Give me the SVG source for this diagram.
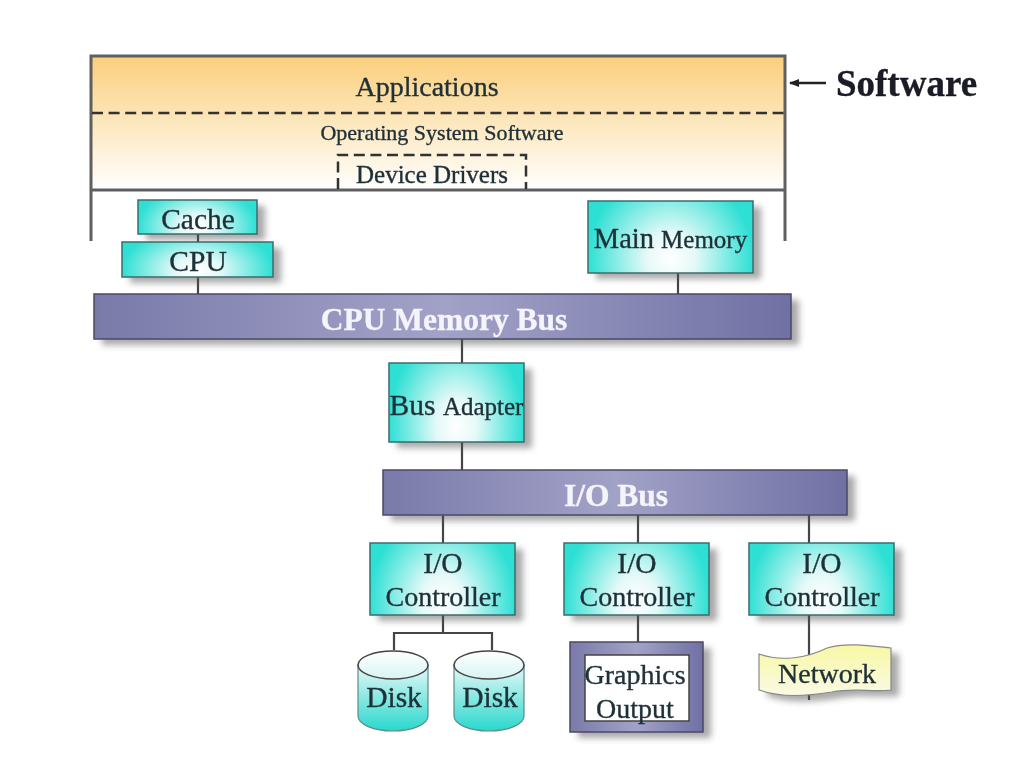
<svg xmlns="http://www.w3.org/2000/svg" width="1020" height="776" viewBox="0 0 1020 776">
<style>
text{font-family:"Liberation Serif","Times New Roman",serif;fill:#1f3038;stroke:#1f3038;stroke-width:.35;text-anchor:middle}
.f{fill:none;stroke:#5e5e5e;stroke-width:3}
.d{fill:none;stroke:#333;stroke-width:2.5;stroke-dasharray:11 5.6}
.c{fill:none;stroke:#444;stroke-width:2.2}
.s{fill:#555;opacity:.5;filter:url(#b)}
.t{fill:url(#teal);stroke:#3d6b6b;stroke-width:1.5}
.bus{fill:url(#bus);stroke:#4a4a66;stroke-width:1.5}
.l{font-size:28px}
.big{font-size:29.5px}
.main{font-size:28.5px}
.small{font-size:25px}
text.w{fill:#f4f4fa;stroke:#f4f4fa;font-weight:bold;font-size:31.5px}
</style>
<defs>
<filter id="b" x="-20%" y="-20%" width="140%" height="140%"><feGaussianBlur stdDeviation="3"/></filter>
<filter id="soft" filterUnits="userSpaceOnUse" x="0" y="0" width="1020" height="776"><feGaussianBlur stdDeviation=".55"/></filter>
<linearGradient id="sw" x1="0" y1="0" x2="0" y2="1"><stop offset="0" stop-color="#fbcf7c"/><stop offset="1" stop-color="#ffffff"/></linearGradient>
<radialGradient id="teal" cx=".5" cy=".8" r=".5" gradientTransform="translate(.5 .8) scale(1 2.4) translate(-.5 -.8)"><stop offset="0" stop-color="#ffffff"/><stop offset=".3" stop-color="#e4f9f8"/><stop offset="1" stop-color="#2fe0d4"/></radialGradient>
<linearGradient id="bus" x1="0" y1="0" x2="1" y2="0"><stop offset="0" stop-color="#7a7aaa"/><stop offset=".5" stop-color="#a2a2c8"/><stop offset="1" stop-color="#7070a4"/></linearGradient>
<linearGradient id="disk" x1="0" y1="0" x2="0" y2="1"><stop offset="0" stop-color="#e8f8f8"/><stop offset="1" stop-color="#28d8cc"/></linearGradient>
<linearGradient id="top" x1="0" y1="0" x2="0" y2="1"><stop offset="0" stop-color="#ffffff"/><stop offset="1" stop-color="#d8f4f4"/></linearGradient>
<linearGradient id="net" x1="0" y1="0" x2="0" y2="1"><stop offset="0" stop-color="#f8f8a4"/><stop offset="1" stop-color="#fafae4"/></linearGradient>
<marker id="arrow" markerWidth="10" markerHeight="10" refX="1" refY="5" orient="0" markerUnits="userSpaceOnUse"><path d="M0 5L10 1V9Z" fill="#222"/></marker>
</defs>
<g filter="url(#soft)">
<g id="software">
<rect x="91" y="56" width="694" height="134" fill="url(#sw)"/>
<path class="f" d="M91 241V56H785V241M91 190H785"/>
<path class="d" d="M92 113H784"/>
<text x="427" y="96" class="l">Applications</text>
<text x="442" y="140" font-size="22">Operating System Software</text>
<path class="d" d="M338 189V155H526V189"/>
<text x="432" y="183" font-size="25">Device Drivers</text>
</g>
<g id="software-label">
<path d="M826 83H790" stroke="#222" stroke-width="2.5" marker-end="url(#arrow)"/>
<text x="906.500" y="96" font-size="37" font-weight="bold" style="fill:#1a1a26;stroke:#1a1a26">Software</text>
</g>
<g id="connectors">
<path class="c" d="M198 234V242M198 277V294M678 273V294M462 339V363M462 442V470M443 515V543M638 515V543M809 515V543M443 615V633M394 650V633H492V650M638 615V642M809 615V700"/>
</g>
<g id="cache"><rect class="s" x="146" y="206" width="119" height="34"/><rect class="t" x="138" y="200" width="119" height="34"/><text x="198" y="229" class="big">Cache</text></g>
<g id="cpu"><rect class="s" x="130" y="248" width="151" height="35"/><rect class="t" x="122" y="242" width="151" height="35"/><text x="198" y="271" class="big">CPU</text></g>
<g id="main-memory"><rect class="s" x="596" y="207" width="165" height="72"/><rect class="t" x="588" y="201" width="165" height="72"/><text x="670.500" y="248" class="main">Main <tspan class="small">Memory</tspan></text></g>
<g id="cpu-memory-bus"><rect class="s" x="102" y="300" width="697" height="45"/><rect class="bus" x="94" y="294" width="697" height="45"/><text x="444" y="330" class="w">CPU Memory Bus</text></g>
<g id="bus-adapter"><rect class="s" x="397" y="369" width="135" height="79"/><rect class="t" x="389" y="363" width="135" height="79"/><text x="456.500" y="415" class="big">Bus <tspan class="small">Adapter</tspan></text></g>
<g id="io-bus"><rect class="s" x="391" y="476" width="464" height="45"/><rect class="bus" x="383" y="470" width="464" height="45"/><text x="616" y="506" class="w">I/O Bus</text></g>
<g id="io-controller-1"><rect class="s" x="378" y="549" width="145" height="72"/><rect class="t" x="370" y="543" width="145" height="72"/><text x="443" y="573" class="big">I/O</text><text x="443" y="606" class="l">Controller</text></g>
<g id="io-controller-2"><rect class="s" x="572" y="549" width="145" height="72"/><rect class="t" x="564" y="543" width="145" height="72"/><text x="637" y="573" class="big">I/O</text><text x="637" y="606" class="l">Controller</text></g>
<g id="io-controller-3"><rect class="s" x="757" y="549" width="145" height="72"/><rect class="t" x="749" y="543" width="145" height="72"/><text x="822" y="573" class="big">I/O</text><text x="822" y="606" class="l">Controller</text></g>
<g id="disk-1"><path d="M358 665V716A35 15 0 0 0 428 716V665Z" fill="url(#disk)" stroke="#5a8a8a" stroke-width="1.2"/><ellipse cx="393" cy="665" rx="35" ry="14" fill="url(#top)" stroke="#444" stroke-width="1.5"/><text x="394" y="707" class="big">Disk</text></g>
<g id="disk-2"><path d="M454 665V716A35 15 0 0 0 524 716V665Z" fill="url(#disk)" stroke="#5a8a8a" stroke-width="1.2"/><ellipse cx="489" cy="665" rx="35" ry="14" fill="url(#top)" stroke="#444" stroke-width="1.5"/><text x="490" y="707" class="big">Disk</text></g>
<g id="graphics-output"><rect class="s" x="578" y="648" width="133" height="90"/><rect class="bus" x="570" y="642" width="133" height="90"/><rect x="585" y="655" width="104" height="66" fill="#fff" stroke="#444" stroke-width="1.5"/><text x="635" y="684" class="l">Graphics</text><text x="635" y="718" class="l">Output</text></g>
<g id="network"><path class="s" d="M767 660C790 668 815 664 835 654C855 648 880 652 899 654V696C880 698 860 694 840 698C815 702 790 704 767 696Z"/><path d="M759 654C782 662 807 658 827 648C847 642 872 646 891 648V690C872 692 852 688 832 692C807 696 782 698 759 690Z" fill="url(#net)" stroke="#888" stroke-width="1.2"/><text x="827" y="683" class="l">Network</text></g>
</g>
</svg>
